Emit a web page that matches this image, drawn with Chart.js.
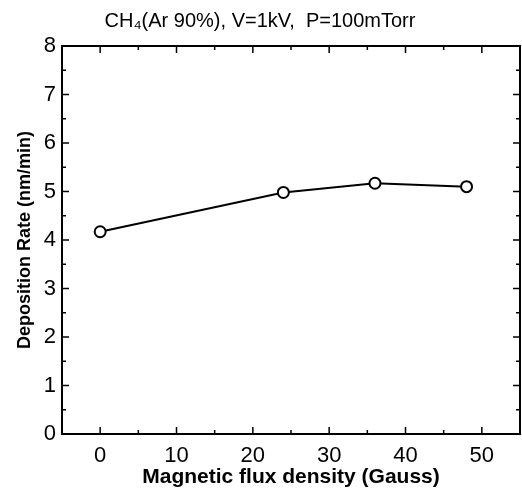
<!DOCTYPE html>
<html>
<head>
<meta charset="utf-8">
<script src="https://cdn.jsdelivr.net/npm/chart.js@4.4.0/dist/chart.umd.min.js"></script>
<style>
  html, body { margin: 0; padding: 0; background: #fff; }
  #wrap { width: 522px; height: 493px; position: relative; }
</style>
</head>
<body>
<div id="wrap"><canvas id="chart"></canvas></div>
<script>
// data
const fluxGauss = [0, 24, 36, 48];
const depositionRate = [4.17, 4.98, 5.17, 5.1];
const xTickLabels = [0, 10, 20, 30, 40, 50];
const yTickLabels = [0, 1, 2, 3, 4, 5, 6, 7, 8];
const xMinorTicks = [0, 5, 10, 15, 20, 25, 30, 35, 40, 45, 50];
const yMinorTicks = [0, 0.5, 1, 1.5, 2, 2.5, 3, 3.5, 4, 4.5, 5, 5.5, 6, 6.5, 7, 7.5, 8];

const points = fluxGauss.map((x, i) => ({ x: x, y: depositionRate[i] }));

// box around the plot and inward ticks on all four sides
const frameTicks = {
  id: 'frameTicks',
  afterDraw(chart) {
    const ctx = chart.ctx;
    const a = chart.chartArea;
    const xs = chart.scales.x, ys = chart.scales.y;
    ctx.save();
    ctx.strokeStyle = '#000';
    ctx.lineWidth = 2;
    ctx.strokeRect(a.left, a.top, a.right - a.left, a.bottom - a.top);
    ctx.lineWidth = 1.5;
    ctx.beginPath();
    xMinorTicks.forEach(v => {
      const px = xs.getPixelForValue(v);
      const len = v % 10 === 0 ? 7 : 4;
      ctx.moveTo(px, a.bottom); ctx.lineTo(px, a.bottom - len);
      ctx.moveTo(px, a.top); ctx.lineTo(px, a.top + len);
    });
    yMinorTicks.forEach(v => {
      const py = ys.getPixelForValue(v);
      const len = v % 1 === 0 ? 7 : 4;
      ctx.moveTo(a.left, py); ctx.lineTo(a.left + len, py);
      ctx.moveTo(a.right, py); ctx.lineTo(a.right - len, py);
    });
    ctx.stroke();
    ctx.restore();
  }
};

const ctx = document.getElementById('chart').getContext('2d');
new Chart(ctx, {
  type: 'scatter',
  data: {
    datasets: [{
      data: points,
      showLine: true,
      borderColor: '#000',
      borderWidth: 2,
      pointRadius: 5.5,
      pointBorderWidth: 2,
      pointBackgroundColor: '#fff',
      pointBorderColor: '#000',
      tension: 0
    }]
  },
  options: {
    responsive: true,
    maintainAspectRatio: false,
    animation: false,
    devicePixelRatio: 1,
    layout: { autoPadding: false, padding: { left: 0, right: 2, top: 0, bottom: 0 } },
    plugins: {
      legend: { display: false },
      tooltip: { enabled: false },
      title: {
        display: true,
        text: 'CH\u2084(Ar 90%), V=1kV,  P=100mTorr',
        color: '#000',
        font: { family: 'Liberation Sans', size: 20, weight: 'normal' },
        padding: { top: 9.5, bottom: 12.5 }
      }
    },
    scales: {
      x: {
        type: 'linear',
        min: -5,
        max: 55,
        afterBuildTicks: (scale) => { scale.ticks = xTickLabels.map(v => ({ value: v })); },
        afterFit: (scale) => {
          scale.height = 59;
          scale.paddingLeft = 0;
          scale.paddingRight = 0;
        },
        grid: { display: false, drawTicks: false },
        border: { display: false },
        ticks: {
          color: '#000',
          padding: 9,
          font: { family: 'Liberation Sans', size: 22 }
        },
        title: {
          display: true,
          text: 'Magnetic flux density (Gauss)',
          color: '#000',
          font: { family: 'Liberation Sans', size: 21, weight: 'bold' },
          padding: 3
        }
      },
      y: {
        type: 'linear',
        min: 0,
        max: 8,
        afterBuildTicks: (scale) => { scale.ticks = yTickLabels.map(v => ({ value: v })); },
        afterFit: (scale) => { scale.width = 62; },
        grid: { display: false, drawTicks: false },
        border: { display: false },
        ticks: {
          color: '#000',
          padding: 6,
          font: { family: 'Liberation Sans', size: 22 }
        },
        title: {
          display: true,
          text: 'Deposition Rate (nm/min)',
          color: '#000',
          font: { family: 'Liberation Sans', size: 18, weight: 'bold' },
          padding: 14
        }
      }
    }
  },
  plugins: [frameTicks]
});
</script>
</body>
</html>
